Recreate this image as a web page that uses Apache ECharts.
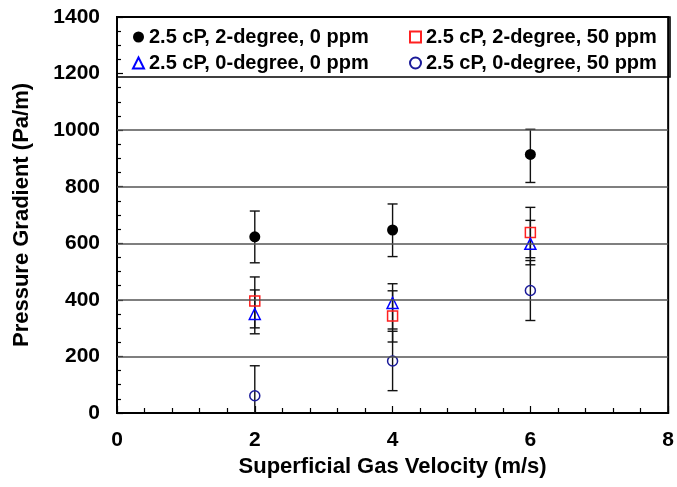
<!DOCTYPE html>
<html>
<head>
<meta charset="utf-8">
<script src="https://cdn.jsdelivr.net/npm/echarts@6/dist/echarts.min.js"></script>
<style>
  html, body { margin: 0; padding: 0; background: #fff; }
  #chart { width: 677px; height: 487px; }
</style>
</head>
<body>
<div id="chart"></div>
<script>
// superficial gas velocity (m/s)
var velocity = [2, 4, 6];

// 2.5 cP, 2-degree, 0 ppm
var deg2ppm0 = [623, 647, 914];
var deg2ppm0Low = [531, 553, 815];
var deg2ppm0High = [714, 739, 1003];

// 2.5 cP, 2-degree, 50 ppm
var deg2ppm50 = [396, 343, 638];
var deg2ppm50Low = [301, 251, 549];
var deg2ppm50High = [481, 432, 727];

// 2.5 cP, 0-degree, 0 ppm
var deg0ppm0 = [350, 389, 598];
var deg0ppm0Low = [280, 297, 524];
var deg0ppm0High = [435, 457, 681];

// 2.5 cP, 0-degree, 50 ppm
var deg0ppm50 = [61, 184, 433];
var deg0ppm50Low = [-45, 79, 327];
var deg0ppm50High = [167, 289, 539];

var gridValues = [200, 400, 600, 800, 1000];

var names = [
  "2.5 cP, 2-degree, 0 ppm",
  "2.5 cP, 2-degree, 50 ppm",
  "2.5 cP, 0-degree, 0 ppm",
  "2.5 cP, 0-degree, 50 ppm"
];

function pairs(ys) {
  return velocity.map(function (x, i) { return [x, ys[i]]; });
}
function bars(lo, hi) {
  return velocity.map(function (x, i) { return [x, lo[i], hi[i]]; });
}

function renderErr(params, api) {
  var x = api.value(0);
  var pHi = api.coord([x, api.value(2)]);
  var pLo = api.coord([x, api.value(1)]);
  var cs = params.coordSys;
  var bottom = cs.y + cs.height;
  var clipped = pLo[1] > bottom;
  if (clipped) pLo[1] = bottom;
  var w = 5;
  var style = { stroke: "#111", lineWidth: 1.4 };
  var kids = [
    { type: "line", shape: { x1: pHi[0], y1: pHi[1], x2: pLo[0], y2: pLo[1] }, style: style },
    { type: "line", shape: { x1: pHi[0] - w, y1: pHi[1], x2: pHi[0] + w, y2: pHi[1] }, style: style }
  ];
  if (!clipped) {
    kids.push({ type: "line", shape: { x1: pLo[0] - w, y1: pLo[1], x2: pLo[0] + w, y2: pLo[1] }, style: style });
  }
  return { type: "group", children: kids };
}

function errSeries(name, lo, hi) {
  return {
    name: name,
    type: "custom",
    renderItem: renderErr,
    data: bars(lo, hi),
    encode: { x: 0, y: [1, 2] },
    silent: true,
    z: 1
  };
}

var font = "'Liberation Sans', Arial, sans-serif";
var legendText = { fontFamily: font, fontSize: 20, fontWeight: "bold", color: "#000", lineHeight: 20 };

var myChart = echarts.init(document.getElementById("chart"));
myChart.setOption({
  animation: false,
  textStyle: { fontFamily: font, color: "#000" },
  grid: {
    left: 117,
    right: 7,
    top: 17,
    bottom: 74,
    show: true,
    borderColor: "#000",
    borderWidth: 2,
    backgroundColor: "transparent"
  },
  legend: [
    {
      data: [names[0], names[2]],
      orient: "vertical",
      left: 127,
      top: 22,
      itemWidth: 11,
      itemHeight: 11,
      itemGap: 6,
      textStyle: legendText
    },
    {
      data: [names[1], names[3]],
      orient: "vertical",
      left: 404,
      top: 22,
      itemWidth: 11,
      itemHeight: 11,
      itemGap: 6,
      textStyle: legendText
    }
  ],
  graphic: [
    {
      type: "rect",
      shape: { x: 117, y: 17, width: 553, height: 60 },
      style: { fill: "none", stroke: "#000", lineWidth: 1.6 },
      silent: true,
      z: 3
    }
  ],
  xAxis: {
    type: "value",
    min: 0,
    max: 8,
    interval: 2,
    name: "Superficial Gas Velocity (m/s)",
    nameLocation: "middle",
    nameGap: 43,
    nameTextStyle: { fontFamily: font, fontSize: 22, fontWeight: "bold", color: "#000" },
    axisLine: { lineStyle: { color: "#000", width: 2 } },
    axisTick: { inside: true, length: 7, lineStyle: { color: "#000", width: 1.2 } },
    minorTick: { show: true, splitNumber: 5, length: 5, lineStyle: { color: "#000", width: 1.2 } },
    axisLabel: { margin: 17, fontFamily: font, fontSize: 21, fontWeight: "bold", color: "#000" },
    splitLine: { show: false }
  },
  yAxis: {
    type: "value",
    min: 0,
    max: 1400,
    interval: 200,
    name: "Pressure Gradient (Pa/m)",
    nameLocation: "middle",
    nameGap: 84,
    nameTextStyle: { fontFamily: font, fontSize: 22, fontWeight: "bold", color: "#000" },
    axisLine: { show: true, lineStyle: { color: "#000", width: 2 } },
    axisTick: { show: true, inside: true, length: 6, lineStyle: { color: "#000", width: 1.2 } },
    minorTick: { show: true, splitNumber: 4, length: 4, lineStyle: { color: "#000", width: 1.2 } },
    axisLabel: {
      margin: 17,
      fontFamily: font,
      fontSize: 21,
      fontWeight: "bold",
      color: "#000",
      formatter: function (v) { return String(v); }
    },
    splitLine: { show: false }
  },
  series: [
    errSeries("e1", deg2ppm0Low, deg2ppm0High),
    errSeries("e2", deg2ppm50Low, deg2ppm50High),
    errSeries("e3", deg0ppm0Low, deg0ppm0High),
    errSeries("e4", deg0ppm50Low, deg0ppm50High),
    {
      name: names[0],
      type: "scatter",
      symbol: "circle",
      symbolSize: 11,
      itemStyle: { color: "#000", opacity: 1 },
      data: pairs(deg2ppm0),
      z: 3,
      markLine: {
        silent: true,
        symbol: ["none", "none"],
        label: { show: false },
        lineStyle: { color: "#555", width: 1.5, type: "solid" },
        data: gridValues.map(function (v) { return { yAxis: v }; })
      }
    },
    {
      name: names[1],
      type: "scatter",
      symbol: "rect",
      symbolSize: 10,
      itemStyle: { color: "rgba(255,255,255,0)", borderColor: "#ff2020", borderWidth: 1.5, opacity: 1 },
      data: pairs(deg2ppm50),
      z: 3
    },
    {
      name: names[2],
      type: "scatter",
      symbol: "triangle",
      symbolSize: 11,
      itemStyle: { color: "rgba(255,255,255,0)", borderColor: "#0000ff", borderWidth: 1.5, opacity: 1 },
      data: pairs(deg0ppm0),
      z: 3
    },
    {
      name: names[3],
      type: "scatter",
      symbol: "circle",
      symbolSize: 10,
      itemStyle: { color: "rgba(255,255,255,0)", borderColor: "#1a1a99", borderWidth: 1.5, opacity: 1 },
      data: pairs(deg0ppm50),
      z: 3
    }
  ]
});
</script>
</body>
</html>
